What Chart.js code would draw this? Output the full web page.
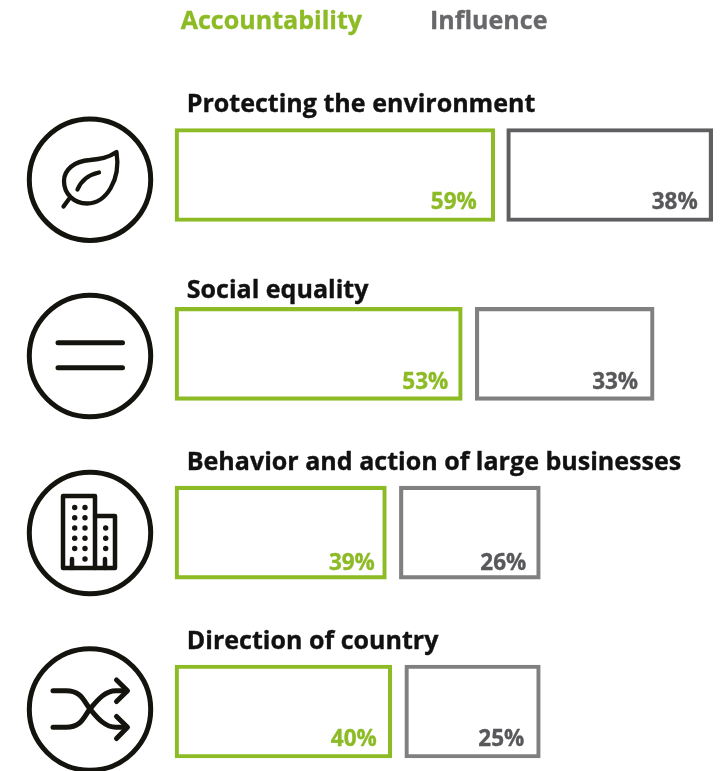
<!DOCTYPE html>
<html><head><meta charset="utf-8">
<style>html,body{margin:0;padding:0;background:#fff;overflow:hidden}canvas{display:block}</style>
<script src="https://cdn.jsdelivr.net/npm/chart.js@4"></script>
</head><body><canvas id="c" width="722" height="771"></canvas>
<script>
const categories = ["Protecting the environment","Social equality","Behavior and action of large businesses","Direction of country"];
const accountability = [59,53,39,40];
const influence = [38,33,26,25];
const spacer = [2.2,2.4,2.4,2.4];
const seriesNames = ["Accountability","Influence"];
const GREEN = "#8dbb25", GREY = "#808080", DARKGREY = "#5f5f62", INK = "#14130d";
const FONT = '"Open Sans", sans-serif';
const titleBaselines = [111.5,297.5,469.5,648.5];
const accountabilityInsets = [18,14,11.5,15];
const influenceInsets = [15,16,14,16];
const labelLifts = [13,11,9.5,12.5];

const iconDrawers = [
  (x)=>{ // leaf
    x.lineWidth=4.3;
    x.beginPath();x.moveTo(116.5,152);
    x.bezierCurveTo(108,158,100,159,90,160);
    x.bezierCurveTo(74,161,64,170,64,181);
    x.bezierCurveTo(64,194,74,203.5,87,203.5);
    x.bezierCurveTo(106,203.5,121,180,116.5,152);x.closePath();x.stroke();
    x.beginPath();x.moveTo(63.5,206.5);x.lineTo(69,199);x.stroke();
    x.beginPath();x.moveTo(77.5,189.5);x.quadraticCurveTo(83,176,99,172.5);x.stroke();
  },
  (x)=>{ // equals
    x.lineWidth=5;
    x.beginPath();x.moveTo(58,342.7);x.lineTo(122.5,342.7);x.moveTo(58,367.7);x.lineTo(122.5,367.7);x.stroke();
  },
  (x)=>{ // buildings
    x.lineWidth=4.5;
    x.beginPath();x.moveTo(63,568);x.lineTo(63,496);x.lineTo(95,496);x.lineTo(95,568);x.closePath();x.stroke();
    x.beginPath();x.moveTo(95,516);x.lineTo(115,516);x.lineTo(115,568);x.lineTo(95,568);x.stroke();
    x.beginPath();x.moveTo(72,559);x.lineTo(72,568);x.moveTo(105,559);x.lineTo(105,568);x.stroke();
    x.fillStyle=INK;
    const dot=(a,b)=>{x.beginPath();x.arc(a,b,2.7,0,7);x.fill();};
    [507.5,517.7,528,538.3,548.5].forEach(b=>{dot(74.7,b);dot(85,b);});
    dot(85,559);
    [528,538.3,548.5].forEach(b=>dot(105.7,b));
  },
  (x)=>{ // shuffle
    x.lineWidth=5;
    x.beginPath();x.moveTo(53,690.7);x.lineTo(66,690.7);x.bezierCurveTo(82,690.7,84,702,90,709);x.bezierCurveTo(96,716,104,727.3,116,727.3);x.lineTo(126,727.3);x.stroke();
    x.beginPath();x.moveTo(53,727.3);x.lineTo(66,727.3);x.bezierCurveTo(82,727.3,84,716,90,709);x.bezierCurveTo(96,702,104,690.7,116,690.7);x.lineTo(126,690.7);x.stroke();
    x.beginPath();x.moveTo(116.5,680);x.lineTo(127.5,690.7);x.lineTo(116.5,701.5);x.moveTo(116.5,716.5);x.lineTo(127.5,727.3);x.lineTo(116.5,738.5);x.stroke();
  }
];
const iconCenters = [179.7,356,533,709.5];

const heavyText = (x,t,a,b,w)=>{x.strokeStyle=x.fillStyle;x.lineWidth=w;x.lineJoin="round";x.strokeText(t,a,b);x.fillText(t,a,b);};

const decor = {
  id:"decor",
  afterDatasetsDraw(chart){
    const x=chart.ctx;
    x.save();
    // value labels
    x.textAlign="right";x.textBaseline="alphabetic";x.font="bold 22.5px "+FONT;
    [[0,accountability,GREEN,accountabilityInsets],[2,influence,"#58585b",influenceInsets]].forEach(([idx,vals,col,ins])=>{
      chart.getDatasetMeta(idx).data.forEach((el,i)=>{
        x.fillStyle=col;
        heavyText(x,vals[i]+"%",el.x-ins[i],el.y+el.height/2-labelLifts[i],0.35);
      });
    });
    // titles
    x.textAlign="left";x.fillStyle="#111";x.font="bold 25.05px "+FONT;
    categories.forEach((t,i)=>heavyText(x,t,186.7,titleBaselines[i],0.35));
    // legend
    x.fillStyle=GREEN;heavyText(x,seriesNames[0],180.7,29,0.35);
    x.fillStyle="#68686b";heavyText(x,seriesNames[1],430,29,0.35);
    // icons
    iconDrawers.forEach((draw,i)=>{
      x.save();x.strokeStyle=INK;x.lineWidth=5;
      x.beginPath();x.arc(90,iconCenters[i],60.7,0,Math.PI*2);x.stroke();
      x.lineWidth=4;x.lineCap="round";x.lineJoin="round";
      draw(x);x.restore();
    });
    x.restore();
  }
};

new Chart(document.getElementById("c"),{
  type:"bar",
  data:{labels:categories,datasets:[
    {label:seriesNames[0],data:accountability,backgroundColor:"rgba(0,0,0,0)",borderColor:GREEN,borderWidth:3.5,borderSkipped:false,clip:false,barThickness:93},
    {label:"",data:spacer,backgroundColor:"rgba(0,0,0,0)",borderWidth:0,clip:false,barThickness:93},
    {label:seriesNames[1],data:influence,backgroundColor:"rgba(0,0,0,0)",borderColor:[DARKGREY,GREY,GREY,GREY],borderWidth:3.5,borderSkipped:false,clip:false,barThickness:93}
  ]},
  options:{
    indexAxis:"y",responsive:false,animation:false,
    layout:{padding:{left:175,right:5,top:175,bottom:59.5}},
    plugins:{legend:{display:false},tooltip:{enabled:false}},
    scales:{
      x:{display:false,stacked:true,min:0,max:100},
      y:{display:false,stacked:true,offset:false}
    }
  },
  plugins:[decor]
});
</script></body></html>
